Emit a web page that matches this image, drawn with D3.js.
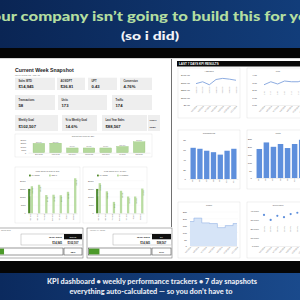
<!DOCTYPE html>
<html>
<meta charset="utf-8" />
<head>
<script src="https://cdn.jsdelivr.net/npm/d3@7"></script>
<style>body{margin:0;overflow:hidden;background:#000}</style>
</head>
<body>
<script>
// ---- data ----
const headline = "your company isn\u2019t going to build this for you";
const subline = "(so i did)";
const footer1 = "KPI dashboard \u2022 weekly performance trackers  \u2022  7 day snapshots";
const footer2 = "everything auto-calculated \u2014 so you don\u2019t have to";

const kpiLabels = ["Sales WTD", "AOS/DPT", "UPT", "Conversion", "Transactions", "Units", "Traffic",
  "Weekly Goal", "% to Weekly Goal", "Last Year Sales", "Comp %"];
const kpiValues = ["$14,945", "$36.81", "0.43", "4.76%", "58", "173", "174",
  "$102,507", "14.6%", "$88,567", "16.8%"];

const weekDays = ["Sun 5/12", "Mon 5/13", "Tue 5/14", "Wed 5/15", "Thu 5/16", "Fri 5/17", "Sat 5/18"];
const prWeekByDay = [15000, 15300, 7600, 7600, 7600, 10000, 17500];
const tySalesByDay = [14945, 0, 0, 0, 0, 0, 0];
const goalByDay = [16600, 17500, 11200, 11400, 11100, 13200, 21500];
const lyByDay = [18500, 13500, 7000, 13800, 10300, 10300, 15167];

const wtdSales = 14945;
const weeklyGoal = 102507;
const lastYearSales = 88567;

const last7Dates = ["5/5/2024", "5/6/2024", "5/7/2024", "5/8/2024", "5/9/2024", "5/10/2024", "5/11/2024"];
const aosDpt = [285, 310, 270, 340, 355, 345, 330];
const upt = [2.7, 3.1, 2.8, 3.2, 3.1, 3.1, 3.4];
const transactions = [64, 62, 58, 55, 50, 58, 62];
const units = [186, 228, 200, 218, 192, 218, 245];
const traffic = [180, 205, 170, 165, 135, 150, 165];
const conversion = [0.355, 0.298, 0.345, 0.33, 0.365, 0.38, 0.37];

// ---- setup ----
const W = 300, H = 300;
const FONT = "Liberation Sans, Arial, sans-serif";
const svg = d3.select("body").append("svg")
  .attr("width", W).attr("height", H)
  .style("display", "block")
  .attr("font-family", FONT);

const defs = svg.append("defs");
const g1 = defs.append("linearGradient").attr("id", "navyTop").attr("x1", 0).attr("x2", 1);
g1.append("stop").attr("offset", 0).attr("stop-color", "#0a2554");
g1.append("stop").attr("offset", 1).attr("stop-color", "#123d7a");
const g2 = defs.append("linearGradient").attr("id", "navyBot").attr("x1", 0).attr("x2", 1);
g2.append("stop").attr("offset", 0).attr("stop-color", "#0b2a5e");
g2.append("stop").attr("offset", 1).attr("stop-color", "#1a4a8c");

// bands
svg.append("rect").attr("width", W).attr("height", 48).attr("fill", "url(#navyTop)");
svg.append("rect").attr("y", 48).attr("width", W).attr("height", 10).attr("fill", "#050505");
svg.append("rect").attr("y", 58).attr("width", W).attr("height", 203).attr("fill", "#ffffff");
svg.append("line").attr("x1", 0).attr("x2", W).attr("y1", 58.5).attr("y2", 58.5).attr("stroke", "#bbb").attr("stroke-width", 0.6);
svg.append("rect").attr("y", 261).attr("width", W).attr("height", 12).attr("fill", "#050505");
svg.append("rect").attr("y", 273).attr("width", W).attr("height", 27).attr("fill", "url(#navyBot)");

// banner text
svg.append("text").attr("x", 150).attr("y", 21).attr("text-anchor", "middle")
  .attr("font-family", "Lato, Open Sans, sans-serif").attr("font-weight", 900)
  .attr("font-size", 14).attr("fill", "#b3dea0")
  .attr("textLength", 334).attr("lengthAdjust", "spacingAndGlyphs")
  .text(headline);
svg.append("text").attr("x", 150).attr("y", 40).attr("text-anchor", "middle")
  .attr("font-family", "Lato, Open Sans, sans-serif").attr("font-weight", 900)
  .attr("font-size", 12).attr("fill", "#f2f4f8")
  .attr("textLength", 58).attr("lengthAdjust", "spacingAndGlyphs")
  .text(subline);

svg.append("text").attr("x", 152).attr("y", 284).attr("text-anchor", "middle")
  .attr("font-family", "Lato, Open Sans, sans-serif").attr("font-weight", 900)
  .attr("font-size", 6.5).attr("fill", "#e8ecf4")
  .attr("textLength", 210).attr("lengthAdjust", "spacingAndGlyphs")
  .text(footer1);
svg.append("text").attr("x", 151).attr("y", 294).attr("text-anchor", "middle")
  .attr("font-family", "Lato, Open Sans, sans-serif").attr("font-weight", 900)
  .attr("font-size", 6.5).attr("fill", "#e8ecf4")
  .attr("textLength", 163).attr("lengthAdjust", "spacingAndGlyphs")
  .text(footer2);

// ---- helpers ----
function box(x, y, w, h, stroke = "#d6d6d6", fill = "#fff", sw = 0.4) {
  return svg.append("rect").attr("x", x).attr("y", y).attr("width", w).attr("height", h)
    .attr("fill", fill).attr("stroke", stroke).attr("stroke-width", sw);
}
function label(x, y, txt, size, opts = {}) {
  return svg.append("text").attr("x", x).attr("y", y)
    .attr("font-size", size)
    .attr("fill", opts.fill || "#444")
    .attr("font-weight", opts.weight || "normal")
    .attr("text-anchor", opts.anchor || "start")
    .text(txt);
}
function yAxis(x, scale, ticks, fmt, size = 2.4) {
  const a = svg.append("g").attr("transform", `translate(${x},0)`)
    .call(d3.axisLeft(scale).tickValues(ticks).tickFormat(fmt).tickSize(0).tickPadding(1));
  a.select(".domain").remove();
  a.selectAll("text").attr("font-size", size).attr("fill", "#444").attr("font-family", FONT);
  return a;
}
function xAxis(y, scale, rot, size = 2, color = "#777") {
  const a = svg.append("g").attr("transform", `translate(0,${y})`)
    .call(d3.axisBottom(scale).tickSize(0).tickPadding(1));
  a.select(".domain").attr("stroke", "#ccc").attr("stroke-width", 0.3);
  a.selectAll("text").attr("font-size", size).attr("fill", color).attr("font-family", FONT)
    .attr("transform", `rotate(${rot})`).attr("text-anchor", "end")
    .attr("dx", "-0.3em").attr("dy", rot === -90 ? "-0.3em" : "0.4em");
  return a;
}

// ---- left panel: snapshot ----
label(15, 71.5, "Current Week Snapshot", 5.2, { weight: "bold", fill: "#222" });
label(15, 75.8, "Week of May 12 - May 18", 2.2, { fill: "#666" });

const kpiBoxes = [
  [15, 77.7, 40, 12.3], [57, 77.7, 28, 12.3], [88, 77.7, 29, 12.3], [120, 77.7, 32, 12.3],
  [15, 95, 40, 15], [58, 95, 49, 15], [112, 95, 40, 15],
  [15, 115, 43, 16], [62, 115, 35, 16], [102, 115, 45, 16], [148, 115, 12, 16]
];
kpiBoxes.forEach((b, i) => {
  box(b[0], b[1], b[2], b[3], "none", "#eeeeee");
  const small = i === 10;
  const lOff = b[3] > 13 ? 6 : 4;
  label(b[0] + (small ? 1.5 : 3.5), b[1] + lOff, kpiLabels[i], small ? 1.8 : 2.6, { fill: "#333", weight: "bold" });
  label(b[0] + (small ? 1.5 : 3.5), b[1] + b[3] - (b[3] > 13 ? 3.2 : 2.2), kpiValues[i], small ? 2.2 : 4.2, { fill: "#222", weight: "bold" });
});

// current PR week by day
box(15, 134, 137, 23, "#dedede");
label(83, 137.3, "Current PR Week by Day", 2, { anchor: "middle", fill: "#555" });
const prX = d3.scaleBand().domain(weekDays).range([28, 150]).padding(0.3);
const prY = d3.scaleLinear().domain([0, 20000]).range([152.7, 140.2]);
yAxis(27, prY, [0, 5000, 10000, 15000, 20000], d3.format("d"), 2);
svg.append("g").selectAll("rect").data(prWeekByDay).join("rect")
  .attr("x", (d, i) => prX(weekDays[i])).attr("width", prX.bandwidth())
  .attr("y", d => prY(d)).attr("height", d => prY(0) - prY(d))
  .attr("fill", "#b4d89c").attr("stroke", "#93c274").attr("stroke-width", 0.3);
svg.append("g").selectAll("text").data(prWeekByDay).join("text")
  .attr("x", (d, i) => prX(weekDays[i]) + prX.bandwidth() / 2).attr("y", d => prY(d) - 0.6)
  .attr("text-anchor", "middle").attr("font-size", 1.6).attr("fill", "#777")
  .text(d => d3.format("$,")(d));
{
  const a = svg.append("g").attr("transform", "translate(0,152.7)")
    .call(d3.axisBottom(prX).tickSize(0).tickPadding(1.2));
  a.select(".domain").attr("stroke", "#ccc").attr("stroke-width", 0.3);
  a.selectAll("text").attr("font-size", 1.9).attr("fill", "#666").attr("font-family", FONT);
}

// WTD vs goal / LY
function groupedChart(x0, x1, title, seriesB, nameB) {
  box(x0, 167, x1 - x0, 56, "#dedede");
  label((x0 + x1) / 2, 172, title, 2, { anchor: "middle", fill: "#555" });
  const lx = x0 + 14;
  svg.append("rect").attr("x", lx).attr("y", 174.6).attr("width", 1.8).attr("height", 1.8).attr("fill", "#4f8a2c");
  label(lx + 2.5, 176.3, "TY Sales", 2, { fill: "#444" });
  svg.append("rect").attr("x", lx + 20).attr("y", 174.6).attr("width", 1.8).attr("height", 1.8).attr("fill", "#b9dca2");
  label(lx + 22.5, 176.3, nameB, 2, { fill: "#444" });

  const gx = d3.scaleBand().domain(weekDays).range([x0 + 12.5, x1 - 3]).paddingInner(0.25).paddingOuter(0.05);
  const sx = d3.scaleBand().domain(["ty", "b"]).range([0, gx.bandwidth()]).padding(0.1);
  const gy = d3.scaleLinear().domain([0, 20000]).range([213.3, 180.7]);
  yAxis(x0 + 11.5, gy, [0, 5000, 10000, 15000, 20000], d3.format("d"), 2);
  svg.append("g").selectAll("line").data([5000, 10000, 15000, 20000]).join("line")
    .attr("x1", x0 + 12).attr("x2", x1 - 3).attr("y1", gy).attr("y2", gy)
    .attr("stroke", "#efefef").attr("stroke-width", 0.3);
  const rows = weekDays.map((d, i) => ({ day: d, ty: tySalesByDay[i], b: seriesB[i] }));
  const grp = svg.append("g").selectAll("g").data(rows).join("g")
    .attr("transform", d => `translate(${gx(d.day)},0)`);
  grp.append("rect").attr("x", sx("ty")).attr("width", sx.bandwidth())
    .attr("y", d => gy(d.ty)).attr("height", d => gy(0) - gy(d.ty)).attr("fill", "#4f8a2c");
  grp.append("rect").attr("x", sx("b")).attr("width", sx.bandwidth())
    .attr("y", d => gy(d.b)).attr("height", d => gy(0) - gy(d.b)).attr("fill", "#b9dca2");
  grp.filter(d => d.ty > 0).append("text")
    .attr("transform", d => `translate(${sx("ty") + sx.bandwidth() / 2 + 0.5},${gy(d.ty) + 2}) rotate(90)`)
    .attr("font-size", 1.5).attr("fill", "#e8f3e0").text(d => d3.format("$,")(d.ty));
  grp.append("text")
    .attr("transform", d => `translate(${sx("b") + sx.bandwidth() / 2 + 0.5},${gy(d.b) + 2}) rotate(90)`)
    .attr("font-size", 1.4).attr("fill", "#7da65f").text(d => d3.format("$,")(d.b));
  const ax = svg.append("g").attr("transform", "translate(0,213.3)")
    .call(d3.axisBottom(gx).tickSize(0).tickPadding(0.8));
  ax.select(".domain").attr("stroke", "#bbb").attr("stroke-width", 0.3);
  ax.selectAll("text").attr("font-size", 1.7).attr("fill", "#666").attr("font-family", FONT)
    .attr("transform", "rotate(-90)").attr("text-anchor", "end").attr("dx", "-0.3em").attr("dy", "-0.2em");
}
groupedChart(15, 80, "WTD Sales vs Goal by Day", goalByDay, "GOAL");
groupedChart(83, 147, "WTD Sales vs LY by Day", lyByDay, "LY/COMP");

// trackers
function tracker(x0, x1, innerX, barX1, title, head, target) {
  box(x0, 228, x1 - x0, 30, "#666", "#fff", 0.5);
  label(Math.max(x0 + 3, 1), 231.3, title, 2, { fill: "#777" });
  box(innerX, 234, x1 - innerX - 0.5, 11, "#999", "#fff", 0.4);
  svg.append("rect").attr("x", barX1 + 1).attr("y", 234).attr("width", x1 - barX1 - 2).attr("height", 5.3).attr("fill", "#111");
  label(barX1 - 1, 238.2, "WTD Sales", 2.5, { anchor: "end", weight: "bold", fill: "#222" });
  label((barX1 + x1) / 2, 238.2, head, 2.5, { anchor: "middle", weight: "bold", fill: "#fff" });
  label(barX1 - 1, 243.6, d3.format("$,")(wtdSales), 2.7, { anchor: "end", weight: "bold", fill: "#222" });
  label((barX1 + x1) / 2, 243.6, d3.format("$,")(target), 2.7, { anchor: "middle", weight: "bold", fill: "#222" });
  const px = d3.scaleLinear().domain([0, 1]).range([x0 + 1.5, barX1]);
  const pct = wtdSales / target;
  box(x0 + 1.5, 248, barX1 - x0 - 1.5, 7, "#333", "#fff", 0.5);
  svg.append("rect").attr("x", px(0) + 0.4).attr("y", 248.6).attr("width", px(pct) - px(0)).attr("height", 5.8).attr("fill", "#4c9a2a");
  box(barX1 + 1, 248, x1 - barX1 - 2, 7, "#333", "#fff", 0.5);
  label((barX1 + x1) / 2, 252.6, d3.format(".0%")(pct), 2.5, { anchor: "middle", weight: "bold", fill: "#222" });
}
tracker(-8, 83, 21, 63, "Sales Goal", "GOAL", weeklyGoal);
tracker(87, 172, 113, 151, "Weekly LY Comp", "LY", lastYearSales);

// divider
svg.append("line").attr("x1", 171.5).attr("x2", 171.5).attr("y1", 59).attr("y2", 227)
  .attr("stroke", "#333").attr("stroke-width", 0.7);

// ---- right panel: last 7 days ----
svg.append("rect").attr("x", 177).attr("y", 61).attr("width", 123).attr("height", 5.5).attr("fill", "#0a0a0a");
label(179, 65.2, "LAST 7 DAYS KPI RESULTS", 3, { weight: "bold", fill: "#fff" });

function panel(x, y, w, h, title) {
  box(x, y, w, h, "#d9d9d9");
  label(x + w / 2, y + 3.6, title, 2.2, { anchor: "middle", fill: "#555" });
}
function vertLabels(xs, y, vals, fmt, color = "#8a8a8a") {
  svg.append("g").selectAll("text").data(vals).join("text")
    .attr("transform", (d, i) => `translate(${xs(last7Dates[i]) + 0.6},${y}) rotate(-90)`)
    .attr("text-anchor", "middle").attr("font-size", 1.8).attr("fill", color).text(fmt);
}

// AOS/DPT
panel(178, 68, 62, 50, "AOS/DPT");
{
  const x = d3.scalePoint().domain(last7Dates).range([196, 236]);
  const y = d3.scaleLinear().domain([0, 400]).range([105, 75]);
  yAxis(191, y, [0, 100, 200, 300, 400], d3.format("$,.2f"), 2.5);
  vertLabels(x, 90, aosDpt, d3.format("$,.2f"));
  svg.append("path").datum(aosDpt)
    .attr("d", d3.line().x((d, i) => x(last7Dates[i])).y(d => y(d)))
    .attr("fill", "none").attr("stroke", "#7fa2dc").attr("stroke-width", 0.9);
  xAxis(105, x, -45);
}
// UPT
panel(247, 68, 62, 50, "UPT");
{
  const x = d3.scalePoint().domain(last7Dates).range([264, 305]);
  const y = d3.scaleLinear().domain([0, 4]).range([105, 75]);
  yAxis(258, y, [0, 1, 2, 3, 4], d3.format(".2f"), 2.5);
  vertLabels(x, 93, upt, d3.format(".2f"));
  svg.append("path").datum(upt)
    .attr("d", d3.line().x((d, i) => x(last7Dates[i])).y(d => y(d)))
    .attr("fill", "none").attr("stroke", "#7fa2dc").attr("stroke-width", 0.9);
  xAxis(105, x, -45);
}
// Transactions
panel(178, 130, 62, 59, "Transactions");
{
  const x = d3.scaleBand().domain(last7Dates).range([189, 238]).padding(0.22);
  const y = d3.scaleLinear().domain([0, 80]).range([179, 140]);
  yAxis(187, y, [0, 20, 40, 60, 80], d3.format("d"), 2.5);
  svg.append("g").selectAll("rect").data(transactions).join("rect")
    .attr("x", (d, i) => x(last7Dates[i])).attr("width", x.bandwidth())
    .attr("y", d => y(d)).attr("height", d => y(0) - y(d)).attr("fill", "#5e8fdc");
  const a = svg.append("g").attr("transform", "translate(0,179)")
    .call(d3.axisBottom(x).tickSize(0).tickPadding(0.6).tickFormat(d => d.slice(0, -5)));
  a.select(".domain").attr("stroke", "#ccc").attr("stroke-width", 0.3);
  a.selectAll("text").attr("font-size", 1.8).attr("fill", "#666").attr("font-family", FONT)
    .attr("transform", "rotate(-90)").attr("text-anchor", "end").attr("dx", "-0.3em").attr("dy", "-0.3em");
}
// Units
panel(247, 130, 62, 59, "Units");
{
  const x = d3.scaleBand().domain(last7Dates).range([255, 306]).padding(0.22);
  const y = d3.scaleLinear().domain([0, 250]).range([178, 139]);
  yAxis(253, y, [0, 50, 100, 150, 200, 250], d3.format("d"), 2.5);
  svg.append("g").selectAll("rect").data(units).join("rect")
    .attr("x", (d, i) => x(last7Dates[i])).attr("width", x.bandwidth())
    .attr("y", d => y(d)).attr("height", d => y(0) - y(d)).attr("fill", "#5e8fdc");
  const a = svg.append("g").attr("transform", "translate(0,178)")
    .call(d3.axisBottom(x).tickSize(0).tickPadding(0.6).tickFormat(d => d.slice(0, -5)));
  a.select(".domain").attr("stroke", "#ccc").attr("stroke-width", 0.3);
  a.selectAll("text").attr("font-size", 1.8).attr("fill", "#666").attr("font-family", FONT)
    .attr("transform", "rotate(-90)").attr("text-anchor", "end").attr("dx", "-0.3em").attr("dy", "-0.3em");
}
// Traffic
panel(178, 202, 62, 56, "Traffic");
{
  const x = d3.scalePoint().domain(last7Dates).range([190, 237]);
  const y = d3.scaleLinear().domain([0, 250]).range([246, 212]);
  yAxis(188, y, [0, 50, 100, 150, 200, 250], d3.format("d"), 2.5);
  svg.append("g").selectAll("line").data([50, 100, 150, 200, 250]).join("line")
    .attr("x1", 189).attr("x2", 238).attr("y1", y).attr("y2", y)
    .attr("stroke", "#eeeeee").attr("stroke-width", 0.3);
  svg.append("path").datum(traffic)
    .attr("d", d3.area().curve(d3.curveStep).x((d, i) => x(last7Dates[i])).y0(y(0)).y1(d => y(d)))
    .attr("fill", "#d6e4f7");
  svg.append("path").datum(traffic)
    .attr("d", d3.line().curve(d3.curveStep).x((d, i) => x(last7Dates[i])).y(d => y(d)))
    .attr("fill", "none").attr("stroke", "#93b4e6").attr("stroke-width", 0.6);
  xAxis(246, x, -45);
}
// Conversion
panel(247, 202, 62, 56, "Conversion");
{
  const x = d3.scalePoint().domain(last7Dates).range([264, 304]);
  const y = d3.scaleLinear().domain([0, 0.4]).range([246, 211]);
  yAxis(260, y, [0, 0.1, 0.2, 0.3, 0.4], d3.format(".2%"), 2.5);
  vertLabels(x, 229, conversion, d3.format(".2%"));
  svg.append("g").selectAll("circle").data(conversion).join("circle")
    .attr("cx", (d, i) => x(last7Dates[i])).attr("cy", d => y(d)).attr("r", 1.1)
    .attr("fill", "#5e8fdc");
  xAxis(246, x, -45);
}
</script>
</body>
</html>
